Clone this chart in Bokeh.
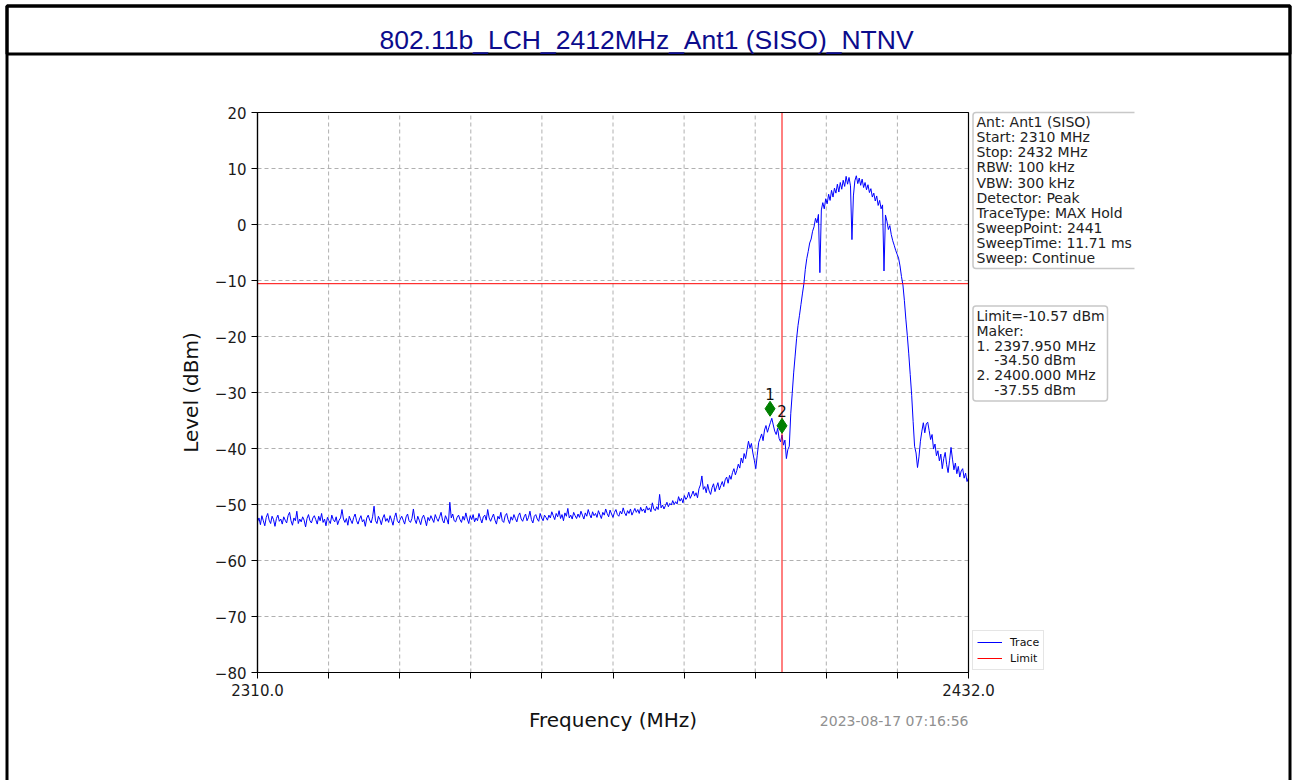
import numpy as np
from bokeh.plotting import figure
from bokeh.models import (Label, BoxAnnotation, Legend, LegendItem,
                          FixedTicker, Range1d, LinearAxis)
from bokeh.core.properties import value
from bokeh.embed import file_html
from bokeh.resources import INLINE

# ---------------- data ----------------
title_text = "802.11b_LCH_2412MHz_Ant1 (SISO)_NTNV"
f_start = 2310.0
f_stop = 2432.0
y_min, y_max = -80, 20

# trace level (dBm), every 0.25 MHz from 2310 to 2432 MHz
level = [
    -53.1, -52.4, -53.6, -52.0, -52.9, -53.8, -52.3, -51.6, -52.8, -53.4, -52.1, -52.7, -53.9, -52.5, -51.9, -53.0, -52.6, -53.5, -52.2, -52.8,
    -53.3, -52.0, -51.4, -52.9, -53.7, -52.4, -52.9, -51.2, -53.4, -52.6, -53.1, -52.2, -52.8, -54.0, -52.5, -51.8, -52.9, -53.3, -52.4, -52.0,
    -52.7, -53.5, -52.1, -52.9, -51.6, -53.2, -52.6, -53.8, -52.3, -52.9, -53.4, -51.9, -52.7, -53.1, -52.2, -53.6, -52.8, -52.4, -50.9, -52.6,
    -53.2, -52.5, -53.7, -52.1, -52.8, -53.4, -52.3, -51.7, -52.9, -53.5, -52.6, -52.0, -53.1, -52.7, -53.9, -52.4, -51.9, -52.8, -53.3, -52.2,
    -50.3, -52.9, -53.4, -52.1, -52.7, -53.6, -52.4, -51.8, -53.0, -52.5, -53.2, -52.0, -52.8, -53.7, -52.3, -51.5, -52.9, -53.3, -52.6, -52.1,
    -52.8, -53.5, -52.2, -51.7, -52.9, -53.2, -52.5, -50.8, -52.7, -53.4, -52.1, -52.8, -53.6, -52.4, -51.9, -52.7, -53.8, -52.3, -52.9, -52.0,
    -52.6, -53.2, -51.8, -52.5, -53.0, -52.2, -51.4, -52.8, -53.3, -52.0, -52.6, -53.5, -49.6, -52.4, -51.7, -52.9, -53.1, -52.3, -51.9, -52.7,
    -53.2, -52.1, -52.8, -51.5, -52.6, -53.4, -52.0, -52.7, -51.8, -53.1, -52.4, -52.9, -51.6, -52.5, -53.3, -52.2, -51.9, -52.8, -50.9, -52.4,
    -53.0, -52.3, -51.7, -52.8, -53.5, -52.1, -52.6, -51.4, -52.9, -53.2, -52.0, -51.6, -52.7, -53.4, -52.2, -52.8, -51.8, -52.5, -53.1, -52.0,
    -51.5, -52.6, -53.0, -52.2, -51.7, -52.9, -52.3, -51.2, -52.7, -53.3, -52.1, -51.8, -52.6, -53.0, -51.6, -52.4, -52.9, -51.9, -52.3, -52.8,
    -51.9, -52.4, -51.3, -52.0, -52.7, -51.6, -52.2, -51.1, -52.5, -51.8, -52.9, -51.5, -52.1, -50.7, -52.4, -51.9, -52.6, -51.4, -52.0, -52.5,
    -51.7, -52.3, -51.2, -51.9, -52.6, -51.5, -52.1, -50.9, -51.8, -52.4, -51.3, -52.0, -51.6, -52.3, -51.1, -51.8, -52.5, -51.4, -51.9, -50.8,
    -51.6, -52.2, -51.0, -51.7, -52.3, -51.4, -50.9, -51.8, -52.1, -51.2, -51.7, -50.6, -51.5, -52.0, -51.1, -51.6, -50.8, -51.9, -51.3, -50.7,
    -51.4, -50.9, -51.6, -50.5, -51.2, -50.8, -51.5, -50.3, -51.0, -50.6, -51.3, -49.7, -50.8, -51.1, -50.4, -50.9, -48.2, -50.6, -50.1, -50.8,
    -50.2, -49.6, -50.4, -49.8, -50.1, -49.3, -50.0, -49.5, -49.9, -48.6, -49.4, -48.9, -49.7, -48.4, -49.1, -48.7, -47.8, -48.9, -48.3, -47.6,
    -48.5, -47.9, -48.8, -47.2, -46.5, -44.9, -47.3, -46.8, -47.9, -46.4, -47.6, -48.2, -47.0, -46.3, -47.7, -46.9, -46.1, -47.4, -46.6, -45.9,
    -46.8, -45.6, -45.1, -46.2, -44.8, -45.5, -44.3, -43.6, -44.7, -43.9, -42.8, -43.5, -41.7, -42.6, -40.9, -41.8, -40.2, -38.7, -39.9, -39.1,
    -40.8, -42.1, -43.6, -41.2, -38.9, -38.2, -37.4, -38.6, -36.7, -35.9, -37.1, -36.2, -35.4, -34.6, -35.8, -36.9, -37.5, -36.4, -38.2, -38.8,
    -37.6, -39.4, -38.5, -41.8, -40.2, -39.6, -33.8, -30.2, -26.5, -23.5, -20.4, -18.0, -16.2, -14.3, -12.4, -10.6, -8.0, -6.1, -4.8, -3.3,
    -2.6, -1.2, -0.4, 1.1, 0.3, 1.8, -8.6, 2.6, 3.9, 2.8, 4.6, 3.7, 5.4, 4.3, 6.1, 4.9, 6.5, 5.6, 7.2, 5.8,
    7.5, 6.3, 7.9, 6.8, 8.6, 7.2, 8.4, 6.9, -2.7, 5.1, 7.8, 8.7, 7.3, 8.3, 7.0, 8.1, 6.6, 7.5, 6.2, 7.1,
    5.7, 6.4, 4.9, 5.6, 4.2, 5.1, 3.4, 4.3, 2.8, 3.5, -8.3, 1.7, 0.6, -0.9, -0.2, -1.8, -2.9, -3.7, -4.6, -5.3,
    -6.0, -7.4, -9.3, -10.8, -13.6, -16.9, -19.8, -23.1, -26.8, -30.5, -35.2, -39.6, -40.8, -43.4, -41.5, -38.7, -36.9, -35.4, -37.2, -35.6,
    -35.3, -36.8, -38.4, -37.5, -40.1, -39.2, -41.3, -40.4, -42.2, -41.0, -43.6, -41.8, -40.7, -42.9, -44.3, -42.1, -39.8, -41.9, -43.8, -42.6,
    -44.5, -43.2, -45.1, -44.0, -43.6, -45.3, -44.4, -45.9, -45.2,
]
# sweep points evenly spaced between start and stop
freq = list(np.linspace(f_start, f_stop, len(level)))

limit_dbm = -10.57
band_edge = 2400.0
marker_names = ["1", "2"]
marker_freq = [2397.950, 2400.000]
marker_level = [-34.50, -37.55]

y_ticks = [-80, -70, -60, -50, -40, -30, -20, -10, 0, 10, 20]
x_ticks = [round(f_start + k * (f_stop - f_start) / 10, 1) for k in range(11)]
x_tick_labels = {f_start: "2310.0", f_stop: "2432.0"}

ant = "Ant1 (SISO)"
rbw = "100 kHz"
vbw = "300 kHz"
detector = "Peak"
trace_type = "MAX Hold"
sweep_points = 2441
sweep_time = "11.71 ms"
sweep_mode = "Continue"
timestamp = "2023-08-17 07:16:56"

# ---------------- layout helpers (page pixels -> data units) ----------------
W, H = 1292, 780
PX0, PX1 = 257, 968     # axes box left/right on page
PY0, PY1 = 112, 672     # axes box top/bottom on page


def xd(px):
    return f_start + (px - PX0) * (f_stop - f_start) / (PX1 - PX0)


def yd(py):
    return y_max - (py - PY0) * (y_max - y_min) / (PY1 - PY0)


FONT = "DejaVu Sans"

# the frame is the whole canvas; the axes are placed at the data edges
p = figure(width=W, height=H, output_backend="svg", toolbar_location=None,
           x_range=Range1d(xd(0), xd(W)), y_range=Range1d(yd(H), yd(0)),
           x_axis_location=None, y_axis_location=None,
           min_border=0, background_fill_color="white", border_fill_color="white")
p.outline_line_color = None
p.xgrid.visible = False
p.ygrid.visible = False

xax = LinearAxis(ticker=FixedTicker(ticks=x_ticks), fixed_location=y_min, bounds=(f_start, f_stop))
yax = LinearAxis(ticker=FixedTicker(ticks=y_ticks), fixed_location=f_start, bounds=(y_min, y_max))
xax.major_label_overrides = {t: x_tick_labels.get(t, "") for t in x_ticks}
yax.major_label_overrides = {t: (("\u2212" + str(abs(t))) if t < 0 else str(t)) for t in y_ticks}
for ax in (xax, yax):
    ax.axis_line_color = "black"
    ax.axis_line_width = 1.2
    ax.major_tick_line_color = "black"
    ax.major_tick_line_width = 1
    ax.major_tick_out = 6
    ax.major_tick_in = 0
    ax.minor_tick_line_color = None
    ax.major_label_text_font = FONT
    ax.major_label_text_font_size = "15px"
    ax.major_label_text_color = "#1a1a1a"
    ax.major_label_standoff = 5
    ax.axis_label_text_font = FONT
    ax.axis_label_text_font_size = "20px"
    ax.axis_label_text_font_style = "normal"
    ax.axis_label_text_color = "#111111"
    ax.axis_label_standoff = 9
xax.axis_label = "Frequency (MHz)"
yax.axis_label = "Level (dBm)"
p.add_layout(xax, "below")
p.add_layout(yax, "left")

# grid lines at the inner ticks
gx = [t for t in x_ticks if f_start < t < f_stop]
gy = [t for t in y_ticks if y_min < t < y_max]
grid_style = dict(line_color="#b0b0b0", line_dash="4 3", line_width=1)
p.segment(x0=gx, y0=[y_min] * len(gx), x1=gx, y1=[y_max] * len(gx), **grid_style)
p.segment(x0=[f_start] * len(gy), y0=gy, x1=[f_stop] * len(gy), y1=gy, **grid_style)

# trace and limits
trace_r = p.line(freq, level, line_color="#0000ff", line_width=1)
limit_r = p.line([f_start, f_stop], [limit_dbm, limit_dbm], line_color="#ff0000", line_width=1)
p.line([band_edge, band_edge], [y_min, y_max], line_color="#ff0000", line_width=1)

# axes box (spines)
p.add_layout(BoxAnnotation(left=f_start, right=f_stop, bottom=y_min, top=y_max,
                           fill_alpha=0, line_color="black", line_alpha=1, line_width=1.2))

# markers (drawn slightly above the measured level)
mk_lift = 1.6
mk_y = [v + mk_lift for v in marker_level]
p.scatter(marker_freq, mk_y, marker="diamond", size=15, fill_color="#008000", line_color="#008000")
p.text(x=marker_freq, y=mk_y, text=marker_names, text_align="center", text_baseline="middle",
       y_offset=-15, text_font=value(FONT), text_font_size="15px", text_color="#111111")

# legend
legend = Legend(items=[LegendItem(label="Trace", renderers=[trace_r]),
                       LegendItem(label="Limit", renderers=[limit_r])],
                location=(972, H - 670), margin=0, padding=4, spacing=2,
                glyph_width=25, glyph_height=14, label_height=14, label_standoff=8,
                label_text_font=FONT, label_text_font_size="11px", label_text_color="#111111",
                border_line_color="#cccccc", border_line_width=1,
                background_fill_color="white", background_fill_alpha=1)
p.add_layout(legend)

# info boxes
info1 = [
    f"Ant: {ant}",
    f"Start: {f_start:.0f} MHz",
    f"Stop: {f_stop:.0f} MHz",
    f"RBW: {rbw}",
    f"VBW: {vbw}",
    f"Detector: {detector}",
    f"TraceType: {trace_type}",
    f"SweepPoint: {sweep_points}",
    f"SweepTime: {sweep_time}",
    f"Sweep: {sweep_mode}",
]
ind = "\u00a0" * 4
info2 = [f"Limit={limit_dbm:.2f} dBm", "Maker:"]
for n, fq, lv in zip(marker_names, marker_freq, marker_level):
    info2.append(f"{n}. {fq:.3f} MHz")
    info2.append(f"{ind}{lv:.2f} dBm")

frame_style = dict(fill_color="white", fill_alpha=1, line_color="#c8c8c8", line_alpha=1,
                   line_width=1.5, border_radius=3)
line_style = dict(text_font=FONT, text_font_size="14px", text_color="#222222",
                  text_align="left", text_baseline="middle")

p.add_layout(BoxAnnotation(left=xd(972.5), right=xd(1160), top=yd(112), bottom=yd(268), **frame_style))
for i, t in enumerate(info1):
    p.add_layout(Label(x=xd(976), y=yd(121.5 + 15.15 * i), text=t, **line_style))
# the embedded picture ends here: hide what lies past its edge
p.add_layout(BoxAnnotation(left=xd(1134), right=xd(1286), top=yd(100), bottom=yd(285),
                           fill_color="white", fill_alpha=1, line_color=None))

p.add_layout(BoxAnnotation(left=xd(972.5), right=xd(1107), top=yd(305.5), bottom=yd(400.5), **frame_style))
for i, t in enumerate(info2):
    p.add_layout(Label(x=xd(976), y=yd(315.5 + 14.8 * i), text=t, **line_style))

# timestamp
p.add_layout(Label(x=xd(968), y=yd(720), text=timestamp, text_align="right",
                   text_baseline="middle", text_font=FONT, text_font_size="14px",
                   text_color="#909090"))

# document table frame and title
table_style = dict(fill_alpha=0, line_color="black", line_alpha=1, line_width=3)
p.add_layout(BoxAnnotation(left=xd(6.5), right=xd(1289.5), top=yd(5.5), bottom=yd(53.5), **table_style))
p.add_layout(BoxAnnotation(left=xd(6.5), right=xd(1289.5), top=yd(5.5), bottom=yd(900), **table_style))
p.add_layout(Label(x=xd(646), y=yd(39.5), text=title_text, text_align="center",
                   text_baseline="middle", text_font="Liberation Sans",
                   text_font_size="26.5px", text_color="#0c0c8c"))

open("out.html", "w").write(file_html(p, INLINE))
